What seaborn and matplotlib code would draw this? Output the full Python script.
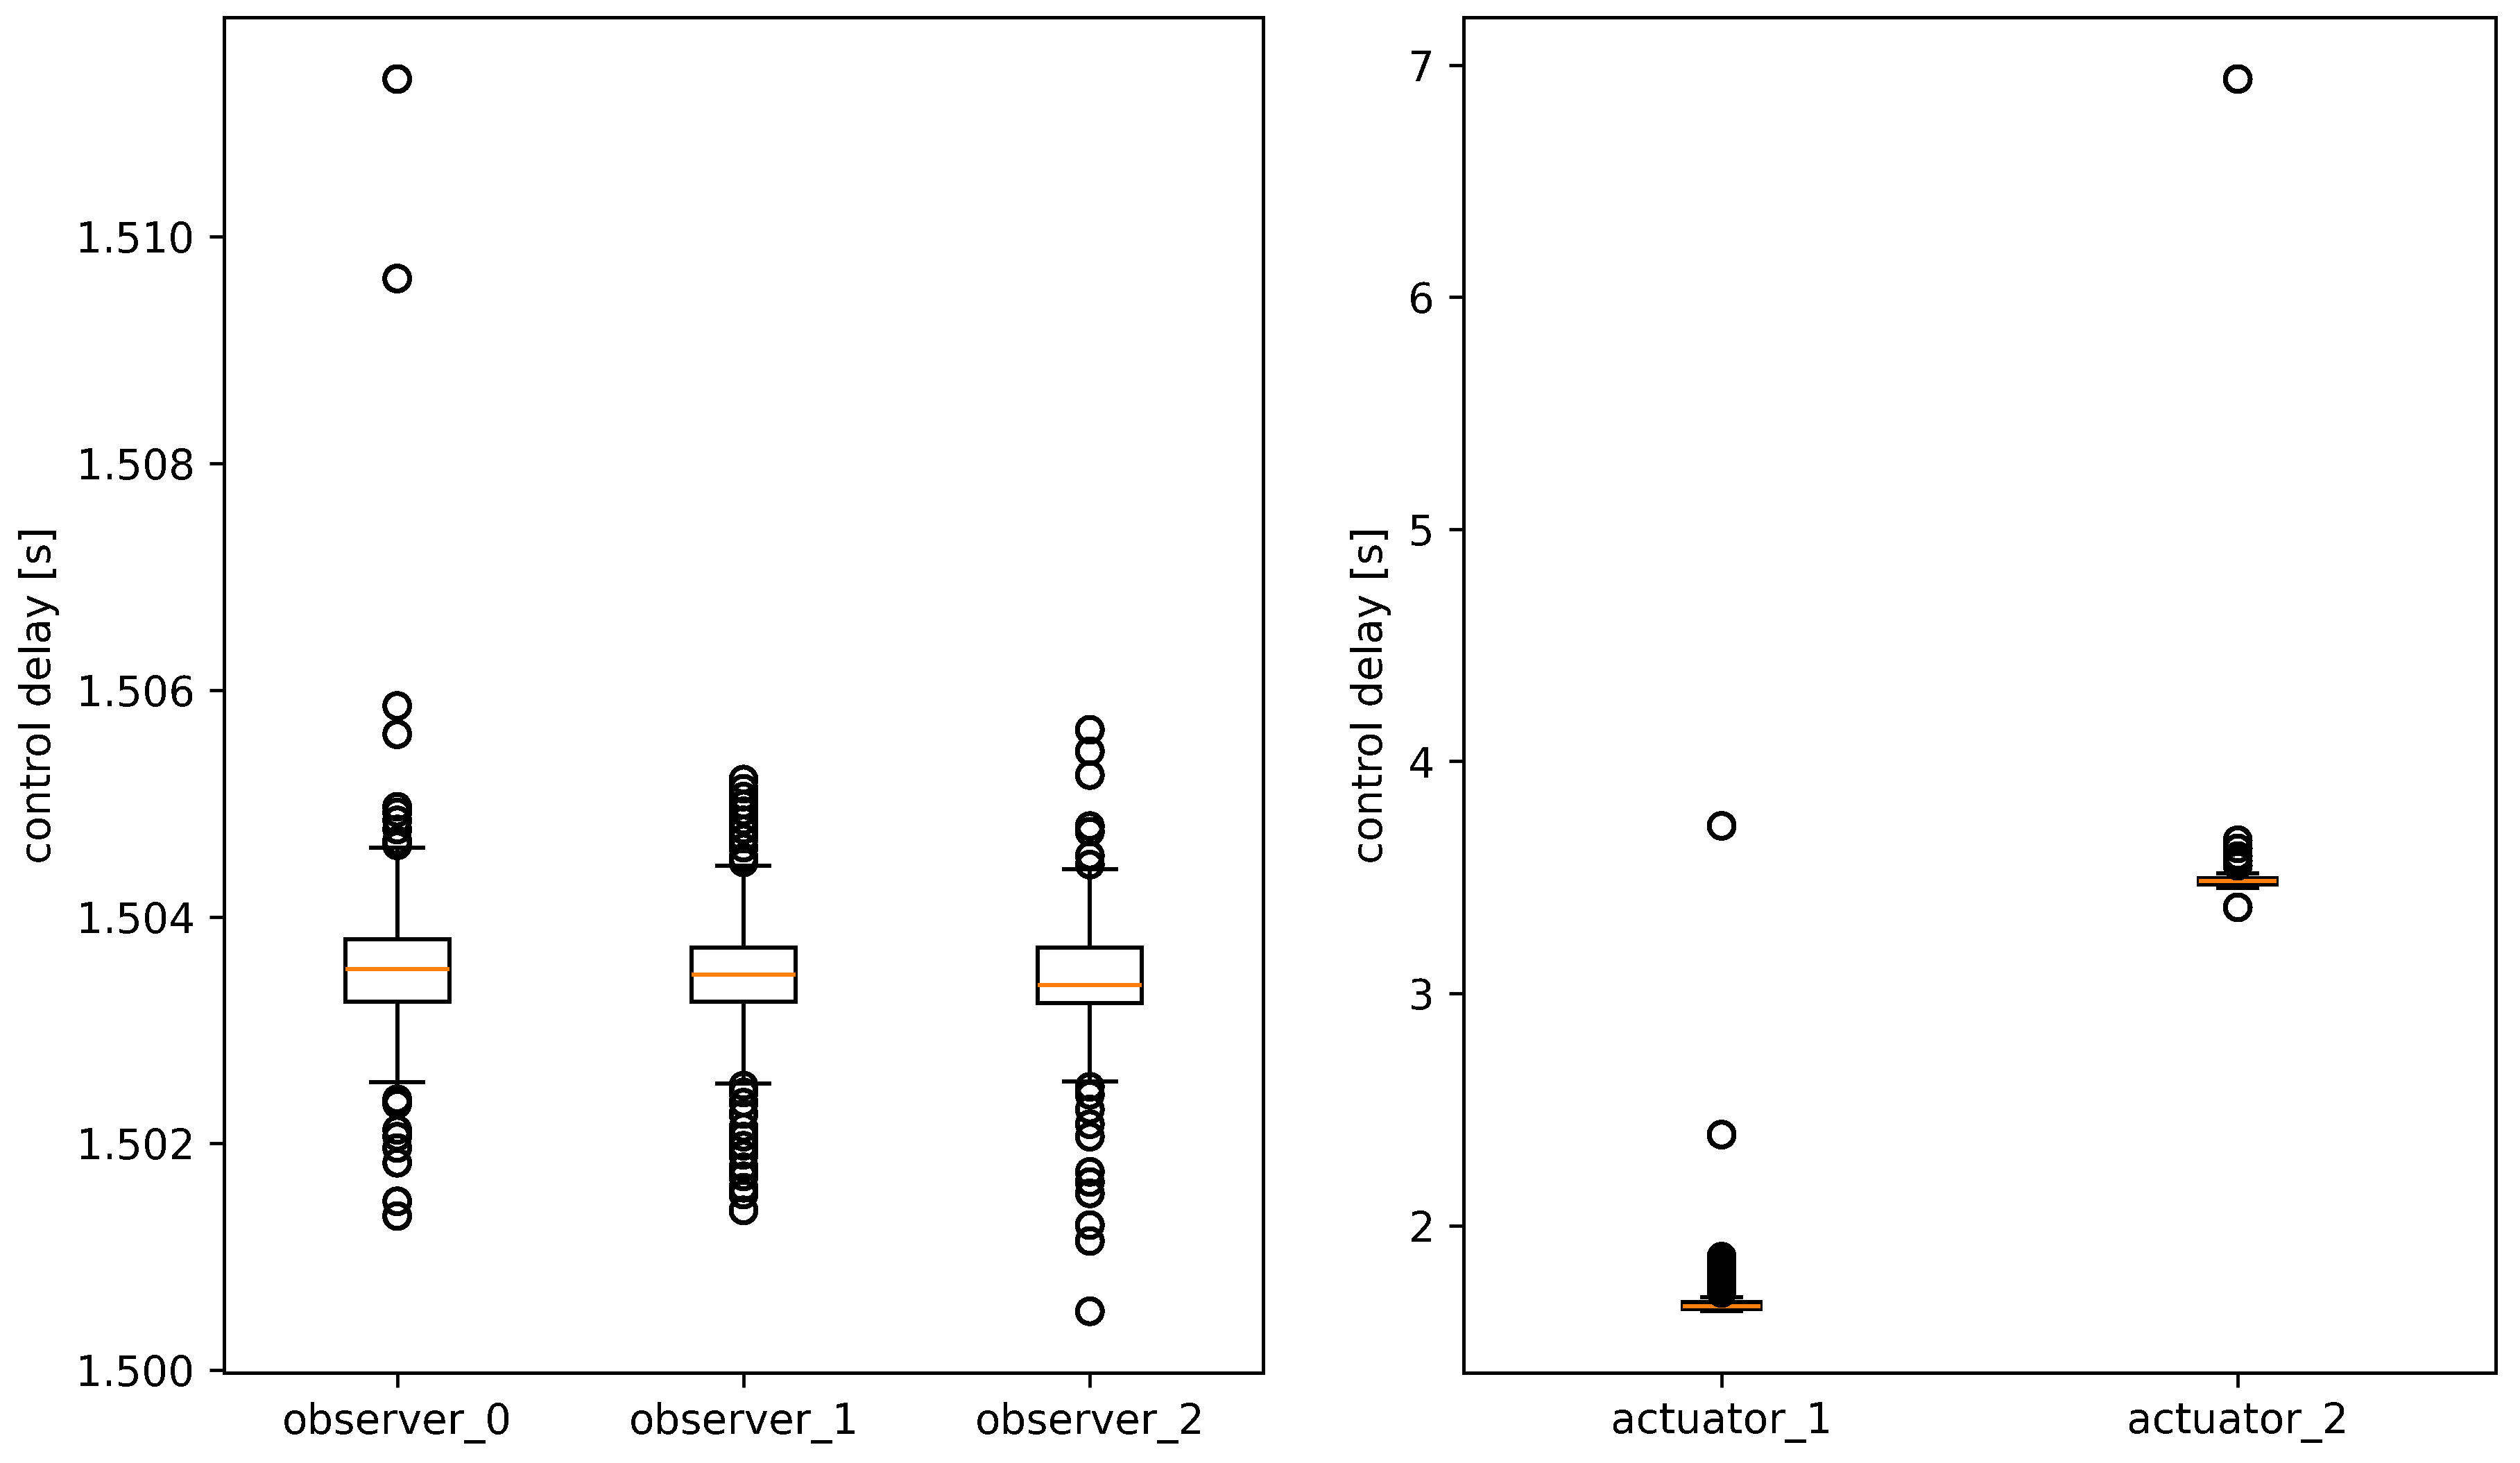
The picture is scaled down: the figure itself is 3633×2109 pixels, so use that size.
import matplotlib
matplotlib.use("Agg")
import pandas as pd
import seaborn as sns
import matplotlib.pyplot as plt

# reference looks like it was rasterised without antialiasing
plt.rcParams["lines.antialiased"] = False
plt.rcParams["patch.antialiased"] = False
plt.rcParams["text.antialiased"] = False

# observer nodes (left panel)
observers = ["observer_0", "observer_1", "observer_2"]
obs_whislo = [1.50254, 1.50253, 1.50255]
obs_q1 = [1.50325, 1.50325, 1.50324]
obs_med = [1.50354, 1.50349, 1.50340]
obs_q3 = [1.50380, 1.50373, 1.50373]
obs_whishi = [1.50461, 1.50445, 1.50442]
obs_fliers = [
    [1.51139, 1.50963, 1.50586, 1.50561, 1.50497, 1.50492, 1.50485, 1.50477,
     1.50467, 1.50463, 1.50239, 1.50235, 1.50212, 1.50206, 1.50196, 1.50183,
     1.50149, 1.50136],
    [1.50521, 1.50513, 1.50506, 1.50499, 1.50493, 1.50485, 1.50477, 1.50469,
     1.50461, 1.50452, 1.50448, 1.50251, 1.50245, 1.50236, 1.50226, 1.50214,
     1.50206, 1.50198, 1.50190, 1.50179, 1.50171, 1.50161, 1.50155, 1.50141],
    [1.50565, 1.50546, 1.50525, 1.50480, 1.50475, 1.50454, 1.50446, 1.50250,
     1.50243, 1.50230, 1.50217, 1.50206, 1.50175, 1.50166, 1.50156, 1.50128,
     1.50114, 1.50052],
]

# actuator nodes (right panel)
actuators = ["actuator_1", "actuator_2"]
act_whislo = [1.631, 3.455]
act_q1 = [1.641, 3.470]
act_med = [1.653, 3.483]
act_q3 = [1.672, 3.497]
act_whishi = [1.691, 3.516]
act_fliers = [
    [3.722, 2.392, 1.866, 1.85, 1.83, 1.81, 1.79, 1.77, 1.75, 1.73, 1.71],
    [6.939, 3.660, 3.625, 3.592, 3.571, 3.550, 3.371],
]


def box_frame(names, lo, q1, med, q3, hi):
    rows = []
    for i, n in enumerate(names):
        for v in (lo[i], q1[i], med[i], q3[i], hi[i]):
            rows.append({"node": n, "delay": v})
    return pd.DataFrame(rows)


def flier_frame(names, fliers):
    rows = []
    for n, vals in zip(names, fliers):
        for v in vals:
            rows.append({"node": n, "delay": v})
    return pd.DataFrame(rows)


def draw(ax, names, box_df, flier_df, width):
    sns.boxplot(data=box_df, x="node", y="delay", order=names, ax=ax,
                whis=(0, 100), width=width, fill=False, color="black",
                linewidth=1.0, medianprops={"color": "#ff7f0e"})
    sns.stripplot(data=flier_df, x="node", y="delay", order=names, ax=ax,
                  jitter=False, size=6, color="black")
    for c in ax.collections:
        c.set_facecolor("none")
        c.set_edgecolor("black")
        c.set_linewidth(1.0)
        c.set_antialiased(False)
    ax.set_xlabel("")
    ax.set_ylabel("control delay [s]")


fig = plt.figure(figsize=(3633 / 430, 2109 / 430))
ax1 = fig.add_axes([0.0889, 0.0616, 0.4123, 0.9265])
ax2 = fig.add_axes([0.5808, 0.0616, 0.4096, 0.9265])

draw(ax1, observers,
     box_frame(observers, obs_whislo, obs_q1, obs_med, obs_q3, obs_whishi),
     flier_frame(observers, obs_fliers), 0.3)
draw(ax2, actuators,
     box_frame(actuators, act_whislo, act_q1, act_med, act_q3, act_whishi),
     flier_frame(actuators, act_fliers), 0.15)

fig.savefig("out.png", dpi=430)
